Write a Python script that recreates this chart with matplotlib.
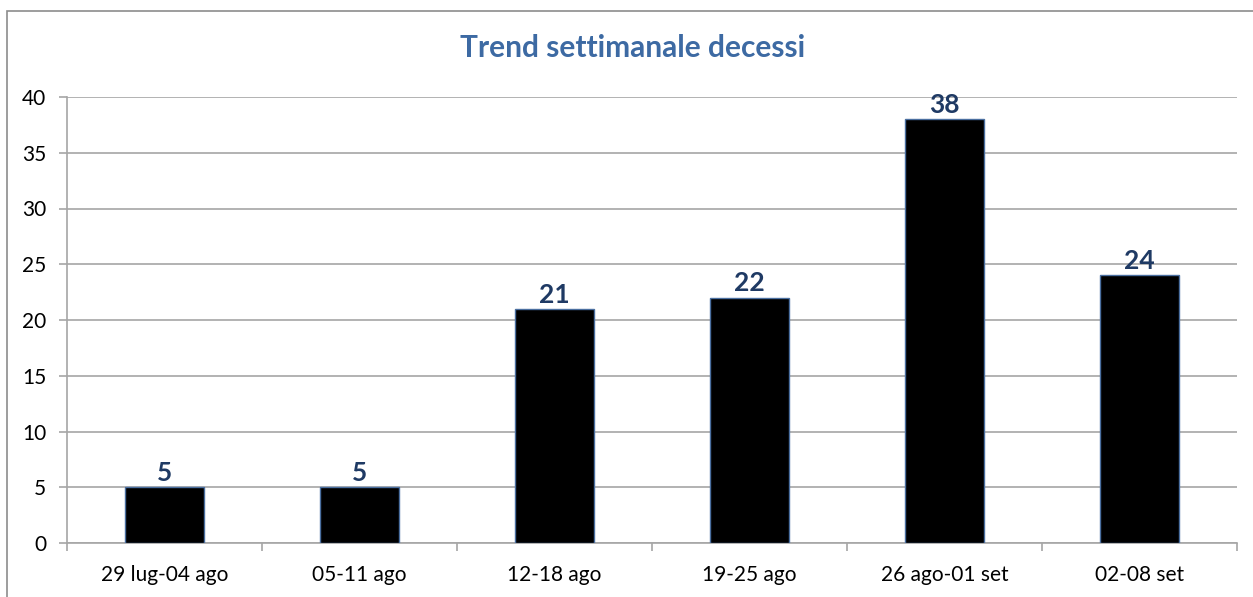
import numpy as np
import matplotlib.pyplot as plt
from matplotlib.patches import Rectangle

settimane = ['29 lug-04 ago', '05-11 ago', '12-18 ago', '19-25 ago', '26 ago-01 set', '02-08 set']
decessi = [5, 5, 21, 22, 38, 24]

plt.rcParams['font.family'] = ['Lato', 'DejaVu Sans']

fig = plt.figure(figsize=(12.53, 5.97), dpi=100)
ax = fig.add_axes([67/1253, 1 - 543/597, (1237 - 67)/1253, (543 - 97)/597])

x = np.arange(len(settimane))
bars = ax.bar(x, decessi, width=0.41, color='black', edgecolor='#4a6fa0', linewidth=1, zorder=3)

for xi, v in zip(x, decessi):
    ax.text(xi, v + 0.2, str(v), ha='center', va='bottom', fontsize=19,
            fontweight='bold', color='#1f3a64')

ax.set_xlim(-0.5, len(settimane) - 0.5)
ax.set_ylim(0, 40)
ax.set_yticks(range(0, 41, 5))
ax.yaxis.grid(True, color='#a6a6a6', linewidth=1.2, zorder=0)
ax.set_axisbelow(True)

ax.set_xticks(x)
ax.set_xticklabels(settimane, fontsize=15)
ax.set_xticks(np.arange(-0.5, len(settimane)), minor=True)
ax.tick_params(axis='x', which='major', length=0, pad=16)
ax.tick_params(axis='x', which='minor', length=6, color='#a6a6a6', width=1.2)
ax.tick_params(axis='y', length=6, color='#a6a6a6', width=1.2, labelsize=15, pad=9)

for s in ['top', 'right']:
    ax.spines[s].set_visible(False)
for s in ['left', 'bottom']:
    ax.spines[s].set_color('#a6a6a6')
    ax.spines[s].set_linewidth(1.2)

fig.text(633/1253, 1 - 48/597, 'Trend settimanale decessi', ha='center', va='center',
         fontsize=21.5, fontweight='bold', color='#3d6aa3')

# chart frame (cut off at right and bottom)
fig.add_artist(Rectangle((7/1253, -0.1), 1.1, 1 - 11/597 + 0.1, transform=fig.transFigure,
                         fill=False, edgecolor='#8c8c8c', linewidth=1.2))

fig.savefig('out.png', dpi=100)
